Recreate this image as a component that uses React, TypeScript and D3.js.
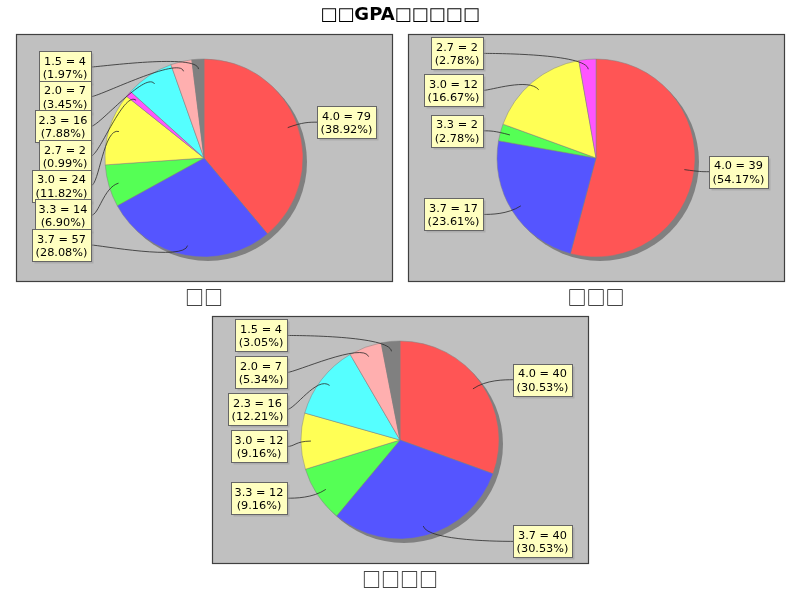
import * as d3 from 'd3';
import { useEffect, useRef } from 'react';

const WIDTH = 800;
const HEIGHT = 600;

const title = '□□GPA□□□□□';
const groupNames = ['□□', '□□□', '□□□□'];
const categories = ['4.0', '3.7', '3.3', '3.0', '2.7', '2.3', '2.0', '1.5'];
const sliceColors = ['#ff5555', '#5555ff', '#55ff55', '#ffff55', '#ff55ff', '#55ffff', '#ffafaf', '#808080'];

const group1 = [79, 57, 14, 24, 2, 16, 7, 4];
const group2 = [39, 17, 2, 12, 2, 0, 0, 0];
const group3 = [40, 40, 12, 12, 0, 16, 7, 4];
const groups = [group1, group2, group3];

// panel boxes: x, y
const panelPos: [number, number][] = [[16, 34], [408, 34], [212, 316]];
const PANEL_W = 376;
const PANEL_H = 247;

const R = 99;
const LINK_R = 105;
const LABEL_H = 33;
const MIN_GAP = 4;

interface Rec {
  y: number;
  mid: number;
  lines: string[];
}

function distribute(recs: Rec[], minY: number, height: number) {
  recs.sort((a, b) => a.y - b.y);
  const h = LABEL_H;
  const overlap = () => recs.some((r, i) => i < recs.length - 1 && recs[i + 1].y - h / 2 < r.y + h / 2);
  if (overlap()) {
    for (let i = 0; i < recs.length - 1; i++) {
      if (recs[i + 1].y - h / 2 < recs[i].y + h / 2) {
        recs[i + 1].y = Math.min(minY + height - h / 2, recs[i].y + h + MIN_GAP);
      }
    }
  }
  if (overlap()) {
    for (let i = recs.length - 1; i > 0; i--) {
      if (recs[i - 1].y + h / 2 > recs[i].y - h / 2) {
        recs[i - 1].y = Math.max(minY + h / 2, recs[i].y - h - MIN_GAP);
      }
    }
  }
  if (overlap()) {
    // not enough room: spread evenly, boxes may overlap
    const gap = recs.length > 1 ? (height - recs.length * h) / (recs.length - 1) : 0;
    let y = minY;
    recs.forEach(r => {
      y += h / 2;
      r.y = y;
      y += h / 2 + gap;
    });
  }
}

export default function App() {
  const ref = useRef<SVGSVGElement>(null);

  useEffect(() => {
    if (!ref.current) return;
    const svg = d3.select(ref.current);
    svg.selectAll('*').remove();

    svg.append('rect').attr('width', WIDTH).attr('height', HEIGHT).attr('fill', '#ffffff');

    // Title
    svg.append('text')
      .attr('x', WIDTH / 2)
      .attr('y', 20)
      .attr('text-anchor', 'middle')
      .attr('font-family', 'DejaVu Sans')
      .attr('font-size', 18)
      .attr('font-weight', 'bold')
      .attr('fill', '#000000')
      .text(title);

    const pie = d3.pie<number>().sort(null).value(d => d);
    const arc = d3.arc<d3.PieArcDatum<number>>().innerRadius(0).outerRadius(R);

    groups.forEach((values, gi) => {
      const [px, py] = panelPos[gi];
      const cx = px + PANEL_W / 2;
      const cy = py + 124;
      const total = d3.sum(values);

      svg.append('rect')
        .attr('x', px + 0.5)
        .attr('y', py + 0.5)
        .attr('width', PANEL_W)
        .attr('height', PANEL_H)
        .attr('fill', '#c0c0c0')
        .attr('stroke', '#404040')
        .attr('stroke-width', 1.2);

      // subtitle below panel
      svg.append('text')
        .attr('x', cx)
        .attr('y', py + PANEL_H + 24)
        .attr('text-anchor', 'middle')
        .attr('font-family', "'Noto Sans CJK SC', 'DejaVu Sans'")
        .attr('font-size', 19)
        .attr('fill', '#000000')
        .text(groupNames[gi]);

      const g = svg.append('g').attr('transform', `translate(${cx},${cy})`);
      g.append('circle').attr('cx', 4).attr('cy', 4).attr('r', R).attr('fill', '#808080');

      const arcs = pie(values);
      g.selectAll('path.slice')
        .data(arcs.filter(a => a.value > 0))
        .join('path')
        .attr('class', 'slice')
        .attr('d', arc)
        .attr('fill', d => sliceColors[d.index])
        .attr('stroke', '#808080')
        .attr('stroke-width', 0.5);

      const left: Rec[] = [];
      const right: Rec[] = [];
      arcs.forEach(a => {
        if (a.value <= 0) return;
        const mid = (a.startAngle + a.endAngle) / 2;
        const rec: Rec = {
          mid,
          y: -LINK_R * Math.cos(mid),
          lines: [`${categories[a.index]} = ${a.value}`, `(${(a.value / total * 100).toFixed(2)}%)`],
        };
        (Math.sin(mid) >= 0 ? right : left).push(rec);
      });
      distribute(left, -107.5, 211);
      distribute(right, -107.5, 211);

      const drawLabel = (rec: Rec, side: number) => {
        const anchorX = side * LINK_R;
        const edgeX = side * 113;
        const elbowX = Math.sin(rec.mid) * LINK_R;
        const elbowY = -Math.cos(rec.mid) * LINK_R;
        const linkX = Math.sin(rec.mid) * R * 0.9;
        const linkY = -Math.cos(rec.mid) * R * 0.9;
        const p = d3.path();
        p.moveTo(edgeX, rec.y);
        p.bezierCurveTo(anchorX, rec.y, elbowX, elbowY, linkX, linkY);
        g.append('path')
          .attr('d', p.toString())
          .attr('fill', 'none')
          .attr('stroke', '#2a2a2a')
          .attr('stroke-width', 0.8);

        const lg = g.append('g');
        const shadow = lg.append('rect').attr('fill', 'rgba(151,151,151,0.5)');
        const box = lg.append('rect').attr('fill', '#ffffc0').attr('stroke', '#666666').attr('stroke-width', 1);
        const texts = rec.lines.map((t, i) =>
          lg.append('text')
            .attr('y', rec.y - 16 + 13.5 + i * 13.5)
            .attr('text-anchor', 'middle')
            .attr('font-family', 'DejaVu Sans')
            .attr('font-size', 11.3)
            .attr('fill', '#000')
            .text(t)
        );
        const w = d3.max(texts, t => (t.node() as SVGTextElement).getComputedTextLength()) ?? 40;
        const bw = Math.round(w + 7);
        const bx = side > 0 ? edgeX : edgeX - bw;
        const by = Math.round(rec.y - 16);
        texts.forEach(t => t.attr('x', bx + bw / 2));
        box.attr('x', bx + 0.5).attr('y', by + 0.5).attr('width', bw).attr('height', 32);
        shadow.attr('x', bx + 2.5).attr('y', by + 2.5).attr('width', bw).attr('height', 32);
      };
      left.forEach(r => drawLabel(r, -1));
      right.forEach(r => drawLabel(r, 1));
    });
  }, []);

  return (
    <svg
      ref={ref}
      width={WIDTH}
      height={HEIGHT}
      viewBox={`0 0 ${WIDTH} ${HEIGHT}`}
      style={{ position: 'absolute', left: 0, top: 0, willChange: 'transform' }}
    />
  );
}
